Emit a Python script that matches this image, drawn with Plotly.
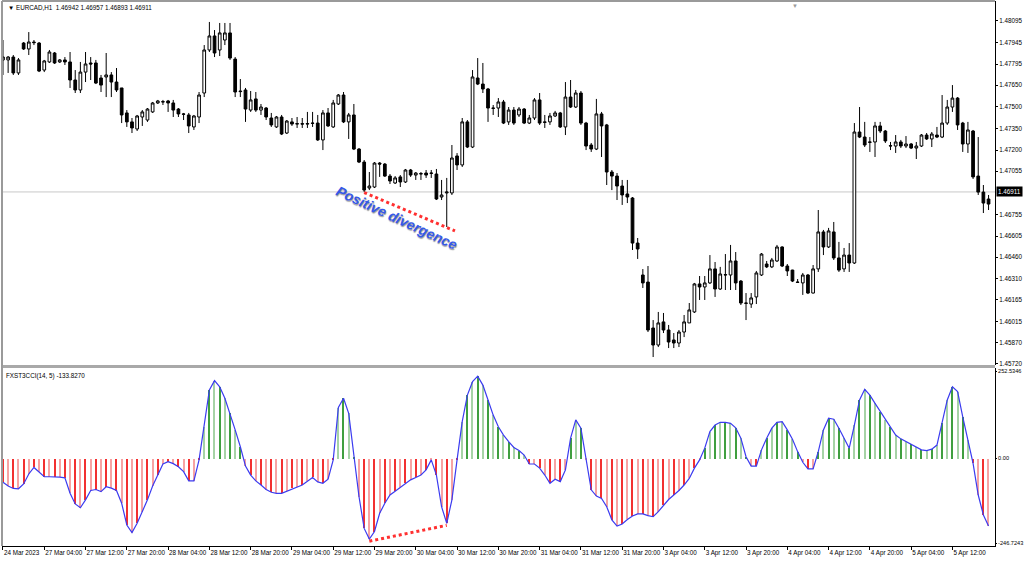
import plotly.graph_objects as go

# ---------------- data ----------------
tick_bars = [0, 8, 16, 24, 32, 40, 48, 56, 64, 72, 80, 88, 96, 104, 112, 120,
             128, 136, 144, 152, 160, 168, 176, 184]
tick_labels = ["24 Mar 2023", "27 Mar 04:00", "27 Mar 12:00", "27 Mar 20:00",
               "28 Mar 04:00", "28 Mar 12:00", "28 Mar 20:00", "29 Mar 04:00",
               "29 Mar 12:00", "29 Mar 20:00", "30 Mar 04:00", "30 Mar 12:00",
               "30 Mar 20:00", "31 Mar 04:00", "31 Mar 12:00", "31 Mar 20:00",
               "3 Apr 04:00", "3 Apr 12:00", "3 Apr 20:00", "4 Apr 04:00",
               "4 Apr 12:00", "4 Apr 20:00", "5 Apr 04:00", "5 Apr 12:00"]

# EURCAD H1 prices in points (price * 1e5)
open_pts = [147825, 147825, 147845, 147735, 147942, 147901, 147949, 147942, 147755, 147811,
            147873, 147811, 147825, 147811, 147686, 147617, 147741, 147804, 147804, 147700,
            147707, 147721, 147672, 147631, 147458, 147396, 147347, 147430, 147409, 147465,
            147527, 147534, 147541, 147527, 147485, 147451, 147444, 147361, 147430, 147596,
            147894, 147991, 147894, 147963, 148012, 147831, 147610, 147617, 147478, 147555,
            147478, 147492, 147423, 147361, 147430, 147319, 147396, 147381, 147384, 147381,
            147388, 147388, 147271, 147458, 147361, 147520, 147582, 147396, 147444, 147208,
            147118, 146938, 146945, 147111, 147104, 147021, 146973, 147015, 146980, 147063,
            147028, 147035, 147042, 147042, 147035, 146876, 146904, 146904, 147160, 147098,
            147396, 147222, 147700, 147658, 147624, 147492, 147492, 147534, 147396, 147478,
            147444, 147485, 147388, 147423, 147548, 147396, 147396, 147437, 147458, 147361,
            147568, 147499, 147596, 147388, 147236, 147208, 147451, 147375, 147049, 147021,
            146952, 146897, 146869, 146557, 146336, 146287, 145969, 145851, 146011, 145955,
            145886, 145865, 145941, 146004, 146080, 146274, 146253, 146281, 146378, 146239,
            146336, 146336, 146433, 146294, 146142, 146135, 146184, 146336, 146412, 146392,
            146433, 146530, 146398, 146370, 146287, 146281, 146336, 146211, 146378, 146634,
            146530, 146634, 146454, 146378, 146474, 146419, 147326, 147291, 147257, 147257,
            147368, 147333, 147229, 147229, 147257, 147229, 147243, 147215, 147229, 147305,
            147278, 147305, 147291, 147388, 147499, 147561, 147388, 147243, 147333, 147021,
            146910, 146862]
high_pts = [147963, 147852, 147859, 147838, 147949, 148018, 147963, 147949, 147825, 147894,
            147880, 147831, 147845, 147880, 147755, 147811, 147880, 147845, 147825, 147721,
            147873, 147741, 147769, 147631, 147478, 147423, 147444, 147478, 147492, 147534,
            147548, 147548, 147548, 147548, 147492, 147458, 147458, 147444, 147603, 147928,
            148088, 148032, 148081, 148081, 148081, 147845, 147693, 147631, 147610, 147603,
            147520, 147499, 147458, 147437, 147444, 147409, 147423, 147430, 147423, 147465,
            147465, 147444, 147478, 147492, 147548, 147589, 147603, 147458, 147520, 147215,
            147132, 147049, 147118, 147118, 147111, 147035, 147021, 147028, 147070, 147070,
            147049, 147049, 147063, 147063, 147070, 146994, 147008, 147236, 147180, 147423,
            147409, 147755, 147838, 147804, 147631, 147513, 147561, 147548, 147499, 147499,
            147499, 147492, 147444, 147561, 147596, 147444, 147458, 147472, 147465, 147672,
            147686, 147617, 147610, 147396, 147250, 147555, 147465, 147382, 147063, 147042,
            146994, 146994, 146876, 146592, 146377, 146398, 146024, 146080, 146073, 145990,
            145934, 145955, 146059, 146142, 146281, 146329, 146329, 146474, 146426, 146392,
            146481, 146544, 146495, 146301, 146211, 146211, 146364, 146488, 146433, 146454,
            146544, 146535, 146412, 146372, 146308, 146350, 146343, 146405, 146786, 146648,
            146662, 146703, 146565, 146523, 146557, 147388, 147499, 147396, 147291, 147396,
            147396, 147340, 147257, 147305, 147271, 147298, 147250, 147257, 147312, 147319,
            147326, 147361, 147582, 147548, 147651, 147568, 147396, 147396, 147340, 147291,
            146959, 146890]
low_pts = [147721, 147735, 147721, 147721, 147894, 147859, 147928, 147741, 147741, 147804,
           147797, 147804, 147790, 147631, 147596, 147596, 147672, 147686, 147658, 147603,
           147568, 147568, 147603, 147388, 147361, 147319, 147333, 147368, 147396, 147458,
           147520, 147513, 147465, 147430, 147430, 147409, 147319, 147340, 147388, 147568,
           147880, 147845, 147852, 147928, 147825, 147568, 147568, 147396, 147465, 147465,
           147444, 147409, 147361, 147354, 147305, 147312, 147368, 147354, 147354, 147354,
           147361, 147264, 147201, 147361, 147354, 147513, 147388, 147278, 147201, 147111,
           146910, 146924, 146938, 147015, 147015, 146966, 146966, 146945, 146973, 147015,
           146994, 146994, 147008, 147008, 146855, 146855, 146668, 146890, 147063, 147084,
           147215, 147215, 147651, 147596, 147396, 147444, 147430, 147381, 147375, 147375,
           147430, 147381, 147381, 147409, 147375, 147354, 147375, 147430, 147354, 147305,
           147492, 147492, 147375, 147201, 147188, 147201, 147153, 146959, 146924, 146855,
           146821, 146834, 146509, 146447, 146246, 145941, 145768, 145837, 145934, 145830,
           145830, 145837, 145906, 146004, 146073, 146163, 146163, 146274, 146184, 146232,
           146232, 146232, 146232, 146128, 146024, 146108, 146135, 146329, 146384, 146384,
           146426, 146391, 146329, 146287, 146281, 146198, 146204, 146208, 146357, 146474,
           146523, 146440, 146357, 146357, 146357, 146412, 147284, 147222, 147188, 147153,
           147319, 147250, 147201, 147181, 147215, 147215, 147208, 147139, 147222, 147271,
           147222, 147284, 147284, 147375, 147465, 147340, 147188, 147181, 147001, 146890,
           146765, 146786]
close_pts = [147845, 147845, 147735, 147825, 147901, 147949, 147945, 147748, 147818, 147880,
             147804, 147825, 147811, 147686, 147617, 147741, 147797, 147797, 147665, 147651,
             147721, 147672, 147617, 147444, 147396, 147354, 147437, 147465, 147485, 147527,
             147541, 147536, 147527, 147478, 147451, 147449, 147368, 147437, 147582, 147894,
             147991, 147873, 148012, 148012, 147838, 147603, 147606, 147485, 147548, 147478,
             147499, 147430, 147375, 147430, 147312, 147402, 147381, 147384, 147381, 147384,
             147386, 147271, 147458, 147368, 147527, 147582, 147396, 147444, 147208, 147118,
             146924, 146952, 147111, 147104, 147021, 146987, 147008, 146980, 147063, 147028,
             147042, 147038, 147028, 147040, 146862, 146890, 146910, 147146, 147098, 147396,
             147222, 147707, 147658, 147624, 147492, 147490, 147534, 147388, 147478, 147388,
             147485, 147388, 147423, 147548, 147388, 147393, 147437, 147458, 147361, 147568,
             147499, 147596, 147388, 147229, 147208, 147451, 147368, 147049, 147021, 146952,
             146890, 146876, 146557, 146516, 146281, 145955, 145851, 146004, 145955, 145872,
             145865, 145941, 146011, 146094, 146274, 146253, 146281, 146378, 146239, 146343,
             146338, 146433, 146281, 146142, 146140, 146177, 146350, 146481, 146392, 146440,
             146530, 146398, 146364, 146294, 146285, 146336, 146211, 146378, 146634, 146530,
             146641, 146454, 146370, 146474, 146419, 147326, 147291, 147236, 147255, 147368,
             147333, 147264, 147231, 147257, 147229, 147243, 147215, 147229, 147305, 147278,
             147312, 147291, 147388, 147499, 147561, 147375, 147243, 147340, 147015, 146910,
             146834, 146827]

# FXST3CCI(14, 5) values
cci = [-69, -80, -87, -88, -74, -45, -26, -40, -53, -53,
       -53, -54, -56, -101, -132, -143, -120, -93, -90, -96,
       -82, -86, -93, -130, -193, -215, -188, -155, -120, -80,
       -48, -16, -9, -15, -24, -38, -65, -65, -4, 92,
       199, 226, 208, 175, 131, 83, 34, -22, -48, -65,
       -77, -90, -98, -101, -101, -95, -87, -82, -77, -66,
       -55, -68, -72, -60, -4, 148, 175, 131, 5, -111,
       -203, -234, -212, -159, -130, -106, -95, -84, -72, -62,
       -55, -48, -33, -4, -48, -140, -188, -120, -4, 107,
       184, 223, 239, 213, 170, 126, 92, 68, 49, 32,
       23, 10, -16, -16, -28, -48, -72, -60, -67, -33,
       59, 112, 88, -4, -91, -109, -116, -140, -178, -196,
       -190, -177, -167, -161, -161, -166, -169, -154, -135, -119,
       -106, -93, -77, -58, -28, -4, 30, 78, 97, 105,
       105, 102, 89, 59, 5, -22, -22, 25, 59, 88,
       105, 107, 83, 56, 20, -11, -30, -30, 20, 83,
       117, 114, 88, 59, 30, 97, 170, 201, 184, 160,
       136, 112, 92, 68, 57, 49, 42, 32, 25, 23,
       27, 39, 102, 170, 208, 194, 121, 54, -14, -106,
       -164, -196]

header_ohlc = ["1.46942", "1.46957", "1.46893", "1.46911"]
last_price = 1.46911
indicator_value = "-133.8270"
price_ticks = [1.48095, 1.47945, 1.47795, 1.47650, 1.47500, 1.47350, 1.47200, 1.47055,
               1.46755, 1.46605, 1.46460, 1.46310, 1.46165, 1.46015, 1.45870, 1.45720]
cci_ticks = [252.5346, 0.0, -246.7243]
cci_tick_text = ["252.5346", "0.00", "-246.7243"]
divergence_price_bars = [70, 86]
divergence_cci_bars = [71, 86]

# ---------------- figure ----------------
n = len(close_pts)
bars = list(range(n))
o = [v / 1e5 for v in open_pts]
h = [v / 1e5 for v in high_pts]
l = [v / 1e5 for v in low_pts]
c = [v / 1e5 for v in close_pts]

FONT = "Liberation Sans, Arial, sans-serif"
TFS = 6.3

fig = go.Figure()

fig.add_trace(go.Candlestick(
    x=bars, open=o, high=h, low=l, close=c,
    increasing=dict(line=dict(color="black", width=1), fillcolor="white"),
    decreasing=dict(line=dict(color="black", width=1), fillcolor="black"),
    whiskerwidth=0, xaxis="x", yaxis="y", showlegend=False, hoverinfo="skip"))

# divergence dotted line on price: through the two lows, drawn a little past the second
a, b = divergence_price_bars
ext = 1.6
slope = (l[b] - l[a]) / (b - a)
fig.add_trace(go.Scatter(
    x=[a, b + ext], y=[l[a] - 0.00003, l[b] + slope * ext - 0.00003],
    mode="lines", line=dict(color="#ff3030", width=3, dash="dot"),
    xaxis="x", yaxis="y", showlegend=False, hoverinfo="skip"))

# histogram colours
hist_colors = []
for i, v in enumerate(cci):
    if v >= 0:
        hist_colors.append("#3f9f3f" if i % 2 == 0 else "#a6d3a6")
    else:
        hist_colors.append("#f23030" if i % 2 == 0 else "#f7a3a3")

fig.add_trace(go.Bar(
    x=bars, y=cci, width=0.22, marker=dict(color=hist_colors, line=dict(width=0)),
    xaxis="x", yaxis="y2", showlegend=False, hoverinfo="skip"))

fig.add_trace(go.Scatter(
    x=bars, y=cci, mode="lines", line=dict(color="#3b3bf0", width=1.2),
    xaxis="x", yaxis="y2", showlegend=False, hoverinfo="skip"))

fig.add_trace(go.Scatter(
    x=divergence_cci_bars, y=[cci[i] - 6 for i in divergence_cci_bars],
    mode="lines", line=dict(color="#ff3030", width=3, dash="dot"),
    xaxis="x", yaxis="y2", showlegend=False, hoverinfo="skip"))

main_dom = [0.3321, 1.0]
ind_dom = [0.0, 0.3266]

fig.update_layout(
    width=1024, height=563,
    margin=dict(l=2, r=29, t=1, b=17),
    paper_bgcolor="white", plot_bgcolor="white",
    font=dict(family=FONT, size=TFS, color="black"),
    boxgap=0.25,
    bargap=0,
    xaxis=dict(
        domain=[0, 1], anchor="y2", range=[-0.19, 192.25], automargin=False,
        rangeslider=dict(visible=False),
        tickmode="array", tickvals=tick_bars, ticktext=tick_labels,
        tickangle=0,
        ticks="outside", ticklen=3, tickcolor="black",
        ticklabelposition="outside right",
        tickfont=dict(size=TFS, family=FONT),
        showgrid=False, zeroline=False,
        showline=True, linecolor="black", linewidth=1),
    yaxis=dict(
        domain=main_dom, anchor="x", side="right", automargin=False,
        range=[1.457127, 1.482331],
        tickmode="array", tickvals=price_ticks,
        ticktext=[f"{v:.5f}" for v in price_ticks],
        ticks="outside", ticklen=2, tickcolor="black",
        tickfont=dict(size=TFS, family=FONT),
        showgrid=False, zeroline=False,
        showline=True, linecolor="black", linewidth=1),
    yaxis2=dict(
        domain=ind_dom, anchor="x", side="right", automargin=False,
        range=[-254, 262.7],
        tickmode="array", tickvals=cci_ticks,
        ticktext=cci_tick_text,
        ticks="outside", ticklen=1, tickcolor="black",
        tickfont=dict(size=5.6, family=FONT),
        showgrid=False, zeroline=False,
        showline=True, linecolor="black", linewidth=1),
)

shapes = [
    # current price line
    dict(type="line", xref="paper", yref="y", x0=0, x1=1, y0=last_price, y1=last_price,
         line=dict(color="#c8c8c8", width=1), layer="below"),
    # separator between windows
    dict(type="rect", xref="paper", yref="paper", x0=0, x1=1, y0=ind_dom[1], y1=main_dom[0],
         fillcolor="#a9a9a9", line=dict(width=0)),
    # left border
    dict(type="line", xref="paper", yref="paper", x0=0, x1=0, y0=0, y1=1,
         line=dict(color="#9a9a9a", width=2)),
    # top border
    dict(type="line", xref="paper", yref="paper", x0=0, x1=1, y0=1, y1=1,
         line=dict(color="#9a9a9a", width=2)),
]
fig.update_layout(shapes=shapes)

annotations = [
    dict(xref="paper", yref="paper", x=0.004, y=0.999, xanchor="left", yanchor="top",
         text="▼ EURCAD,H1  " + " ".join(header_ohlc), showarrow=False,
         font=dict(size=TFS, family=FONT, color="black")),
    dict(xref="paper", yref="paper", x=0.002, y=ind_dom[1] - 0.003, xanchor="left", yanchor="top",
         text="FXST3CCI(14, 5) " + indicator_value, showarrow=False,
         font=dict(size=TFS, family=FONT, color="black")),
    dict(xref="paper", yref="y", x=1.0, y=last_price, xanchor="left", yanchor="middle",
         text=f"{last_price:.5f}", showarrow=False, bgcolor="black", borderpad=1, xshift=1,
         font=dict(size=TFS, family=FONT, color="white")),
    dict(xref="paper", yref="paper", x=0.7985, y=1.0, xanchor="center", yanchor="top",
         text="▼", showarrow=False, font=dict(size=6, color="#9a9a9a")),
    dict(xref="x", yref="y", x=76.4, y=1.46731, text="<b><i>Positive divergence</i></b>",
         showarrow=False, textangle=25,
         font=dict(size=14, family=FONT, color="#3558e8",
                   shadow="1px 1px 1px #9a9a9a")),
]
fig.update_layout(annotations=annotations)

page_fix = ("document.documentElement.style.margin='0';"
            "document.body.style.margin='0';"
            "document.body.style.overflow='hidden';"
            "document.documentElement.style.overflow='hidden';")

fig.write_html("out.html", post_script=page_fix, config={"displayModeBar": False})
